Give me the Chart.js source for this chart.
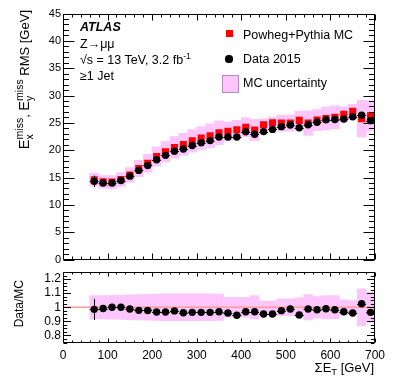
<!DOCTYPE html>
<html><head><meta charset="utf-8">
<script src="https://cdn.jsdelivr.net/npm/chart.js@4.4.1/dist/chart.umd.min.js"></script>
<style>
html,body{margin:0;padding:0;background:#fff;}
body{width:395px;height:379px;position:relative;overflow:hidden;font-family:"Liberation Sans",Arial,Helvetica,sans-serif;color:#000;}
canvas{position:absolute;left:0;}
#c1{top:0}
#c2{top:266px}
.t{position:absolute;white-space:nowrap;font-size:12.5px;line-height:12px;}
.t sup{font-size:8.5px;vertical-align:5px;line-height:0;}
.rot{position:absolute;white-space:nowrap;transform-origin:0 0;transform:rotate(-90deg);text-align:right;}
.ss{display:inline-block;vertical-align:-4px;line-height:10px;font-size:10.5px;text-align:left;}
.ss span{display:block;}
.big{font-size:14.5px;}
#xtitle sub{font-size:9.5px;vertical-align:-3px;line-height:0;}
.mk{position:absolute;}
</style></head><body>
<canvas id="c1" width="395" height="266"></canvas>
<canvas id="c2" width="395" height="113"></canvas>

<div class="t" style="left:80px;top:21px;font-weight:bold;font-style:italic;">ATLAS</div>
<div class="t" style="left:80px;top:37.5px;">Z→μμ</div>
<div class="t" style="left:80px;top:54px;">√s = 13 TeV, 3.2 fb<sup>-1</sup></div>
<div class="t" style="left:80px;top:69.5px;">≥1 Jet</div>

<div class="mk" style="left:225.5px;top:30px;width:7px;height:7px;background:#ff0000;"></div>
<div class="t" style="left:243px;top:28.5px;">Powheg+Pythia MC</div>
<div class="mk" style="left:225.4px;top:55.4px;width:7.2px;height:7.2px;border-radius:50%;background:#000;"></div>
<div class="t" style="left:243px;top:53px;">Data 2015</div>
<div class="mk" style="left:222px;top:75px;width:15px;height:16px;background:#fcc6fc;border:1px solid #b98ab9;"></div>
<div class="t" style="left:243px;top:77px;">MC uncertainty</div>

<div class="rot" style="left:14px;top:193px;width:183px;height:14px;line-height:14px;font-size:13px;"><span class="big">E</span><span class="ss"><span>miss</span><span>x</span></span>, <span class="big">E</span><span class="ss"><span>miss</span><span>y</span></span> RMS [GeV]</div>
<div class="rot" style="left:13px;top:340px;width:60px;height:12px;line-height:12px;font-size:12px;">Data/MC</div>
<div id="xtitle" class="t" style="right:21px;top:361px;font-size:13px;line-height:13px;">ΣE<sub>T</sub> [GeV]</div>

<script>
// ---------------- data ----------------
const binCenters = [70,90,110,130,150,170,190,210,230,250,270,290,310,330,350,370,390,410,430,450,470,490,510,530,550,570,590,610,630,650,670,690];
const binHalfWidth = 10;
const mcRms = [14.6,14.2,14.15,14.65,15.45,16.65,17.6,18.85,19.7,20.5,21.05,21.7,22.2,22.65,23.2,23.45,23.75,24.2,23.7,24.65,25.0,24.95,24.95,25.45,24.95,25.5,25.8,26.0,26.55,27.1,25.75,26.3];
const mcRelUnc = [0.082,0.082,0.084,0.086,0.088,0.090,0.092,0.094,0.095,0.096,0.096,0.096,0.096,0.096,0.094,0.071,0.071,0.071,0.082,0.043,0.043,0.059,0.059,0.066,0.090,0.076,0.082,0.082,0.052,0.047,0.130,0.105];
const dataRms = [14.3,14.0,14.0,14.45,15.25,16.3,17.2,18.25,19.05,19.8,20.2,20.85,21.35,21.75,22.4,22.4,22.4,23.35,22.9,23.4,23.8,24.3,24.6,24.1,24.65,25.1,25.55,25.6,25.7,26.1,26.4,25.4];
const dataErr = [1.05,0.25,0.2,0.2,0.2,0.2,0.2,0.2,0.2,0.2,0.2,0.2,0.2,0.25,0.25,0.25,0.25,0.25,0.3,0.3,0.3,0.3,0.3,0.35,0.35,0.35,0.35,0.4,0.4,0.4,0.5,0.5];
const ratio = [0.985,0.991,1.0,1.0,0.988,0.978,0.977,0.966,0.966,0.974,0.961,0.964,0.964,0.964,0.968,0.959,0.943,0.968,0.968,0.952,0.952,0.976,0.988,0.945,0.988,0.982,0.989,0.982,0.968,0.959,1.025,0.964];
const ratioErr = [0.075,0.012,0.01,0.01,0.01,0.01,0.01,0.01,0.01,0.01,0.01,0.01,0.01,0.012,0.012,0.012,0.012,0.012,0.014,0.014,0.014,0.014,0.014,0.015,0.015,0.015,0.016,0.016,0.017,0.018,0.022,0.022];
const ratioRef = 1;
const mainYTicks = [0,5,10,15,20,25,30,35,40,45];
const ratioYTicks = [0.8,0.9,1,1.1,1.2];
const xTickValues = [0,100,200,300,400,500,600,700];

// ---------------- helpers ----------------
const FONT = "'Liberation Sans', Arial, Helvetica, sans-serif";
const PINK = '#fcc6fc';

function frameTicks(c) {
  return {
    id: 'frameTicks',
    afterDraw(chart) {
      const ctx = chart.ctx, a = chart.chartArea, xs = chart.scales.x, ys = chart.scales.y;
      ctx.save();
      ctx.strokeStyle = '#000';
      ctx.lineWidth = 1;
      ctx.beginPath();
      const L = Math.round(a.left) + 0.5, R = Math.round(a.right) - 0.5, T = Math.round(a.top) + 0.5, B = Math.round(a.bottom) - 0.5;
      ctx.rect(L, T, R - L, B - T);
      for (let k = 0; ; k++) {
        const v = c.xMin + k * c.xMinor;
        if (v > c.xMax + 1e-9) break;
        const major = Math.abs(v / c.xMajor - Math.round(v / c.xMajor)) < 1e-6;
        const len = major ? c.xMajLen : c.xMinLen;
        const px = Math.round(xs.getPixelForValue(v)) + 0.5;
        ctx.moveTo(px, B); ctx.lineTo(px, B - len);
        ctx.moveTo(px, T); ctx.lineTo(px, T + len);
      }
      for (let k = 0; ; k++) {
        const v = c.yMin + k * c.yMinor;
        if (v > c.yMax + 1e-9) break;
        const major = Math.abs(v / c.yMajor - Math.round(v / c.yMajor)) < 1e-6;
        const len = major ? c.yMajLen : c.yMinLen;
        const py = Math.round(ys.getPixelForValue(v)) + 0.5;
        ctx.moveTo(L, py); ctx.lineTo(L + len, py);
        ctx.moveTo(R, py); ctx.lineTo(R - len, py);
      }
      ctx.stroke();
      ctx.restore();
    }
  };
}

function errorBars(afterIndex, xs_, ys_, errs) {
  return {
    id: 'errorBars',
    afterDatasetDraw(chart, args) {
      if (args.index !== afterIndex) return;
      const ctx = chart.ctx, xs = chart.scales.x, ys = chart.scales.y, a = chart.chartArea;
      ctx.save();
      ctx.beginPath();
      ctx.rect(a.left, a.top, a.right - a.left, a.bottom - a.top);
      ctx.clip();
      ctx.strokeStyle = '#000';
      ctx.lineWidth = 1;
      ctx.beginPath();
      xs_.forEach((xc, i) => {
        const py = Math.round(ys.getPixelForValue(ys_[i])) + 0.5;
        const px = Math.round(xs.getPixelForValue(xc)) + 0.5;
        ctx.moveTo(xs.getPixelForValue(xc - binHalfWidth), py);
        ctx.lineTo(xs.getPixelForValue(xc + binHalfWidth), py);
        ctx.moveTo(px, ys.getPixelForValue(ys_[i] - errs[i]));
        ctx.lineTo(px, ys.getPixelForValue(ys_[i] + errs[i]));
      });
      ctx.stroke();
      ctx.restore();
    }
  };
}

function noPad(s) { s.paddingTop = 0; s.paddingBottom = 0; s.paddingLeft = 0; s.paddingRight = 0; }
function fmt(v) { return String(Math.round(v * 10) / 10); }

// ---------------- main panel ----------------
new Chart(document.getElementById('c1'), {
  type: 'scatter',
  data: {
    datasets: [
      { type: 'bar', order: 3,
        data: binCenters.map((x, i) => ({ x: x, y: [mcRms[i] * (1 - mcRelUnc[i]), mcRms[i] * (1 + mcRelUnc[i])] })),
        backgroundColor: PINK, borderWidth: 0, barPercentage: 1, categoryPercentage: 1 },
      { type: 'scatter', order: 2,
        data: binCenters.map((x, i) => ({ x: x, y: mcRms[i] })),
        pointStyle: 'rect', pointRadius: 5, backgroundColor: '#ff0000', borderWidth: 0 },
      { type: 'scatter', order: 1,
        data: binCenters.map((x, i) => ({ x: x, y: dataRms[i] })),
        pointStyle: 'circle', pointRadius: 3.7, backgroundColor: '#000000', borderWidth: 0 }
    ]
  },
  options: {
    responsive: false, animation: false, events: [],
    layout: { padding: { left: 0, right: 20, top: 13.5, bottom: 0 } },
    plugins: { legend: { display: false }, tooltip: { enabled: false } },
    scales: {
      x: { type: 'linear', min: 0, max: 700, offset: false,
        ticks: { display: false }, grid: { display: false, drawTicks: false, offset: false }, border: { display: false },
        afterFit(s) { s.height = 6.5; noPad(s); } },
      y: { type: 'linear', min: 0, max: 45,
        afterBuildTicks(s) { s.ticks = mainYTicks.map(v => ({ value: v })); },
        ticks: { font: { family: FONT, size: 11 }, color: '#000', padding: 2, callback: v => fmt(v) },
        grid: { display: false, drawTicks: false }, border: { display: false },
        afterFit(s) { s.width = 63; noPad(s); } }
    }
  },
  plugins: [
    errorBars(1, binCenters, dataRms, dataErr),
    frameTicks({ xMin: 0, xMax: 700, xMinor: 20, xMajor: 100, xMajLen: 6, xMinLen: 3,
                 yMin: 0, yMax: 45, yMinor: 1, yMajor: 5, yMajLen: 11, yMinLen: 5.5 })
  ]
});

// ---------------- ratio panel ----------------
new Chart(document.getElementById('c2'), {
  type: 'scatter',
  data: {
    datasets: [
      { type: 'bar', order: 3,
        data: binCenters.map((x, i) => ({ x: x, y: [ratioRef - mcRelUnc[i], ratioRef + mcRelUnc[i]] })),
        backgroundColor: PINK, borderWidth: 0, barPercentage: 1, categoryPercentage: 1 },
      { type: 'line', order: 2,
        data: [{ x: 0, y: ratioRef }, { x: 700, y: ratioRef }],
        borderColor: '#ff9a9a', borderWidth: 1.6, pointRadius: 0, fill: false },
      { type: 'scatter', order: 1,
        data: binCenters.map((x, i) => ({ x: x, y: ratio[i] })),
        pointStyle: 'circle', pointRadius: 3.7, backgroundColor: '#000000', borderWidth: 0 }
    ]
  },
  options: {
    responsive: false, animation: false, events: [],
    layout: { padding: { left: 0, right: 20, top: 6, bottom: 0 } },
    plugins: { legend: { display: false }, tooltip: { enabled: false } },
    scales: {
      x: { type: 'linear', min: 0, max: 700, offset: false,
        afterBuildTicks(s) { s.ticks = xTickValues.map(v => ({ value: v })); },
        ticks: { font: { family: FONT, size: 12 }, color: '#000', padding: 5.5, maxRotation: 0, autoSkip: false, callback: v => String(v) },
        grid: { display: false, drawTicks: false, offset: false }, border: { display: false },
        afterFit(s) { s.height = 36.5; noPad(s); } },
      y: { type: 'linear', min: 0.75, max: 1.25,
        afterBuildTicks(s) { s.ticks = ratioYTicks.map(v => ({ value: v })); },
        ticks: { font: { family: FONT, size: 12 }, color: '#000', padding: 2, callback: v => fmt(v) },
        grid: { display: false, drawTicks: false }, border: { display: false },
        afterFit(s) { s.width = 63; noPad(s); } }
    }
  },
  plugins: [
    errorBars(1, binCenters, ratio, ratioErr),
    frameTicks({ xMin: 0, xMax: 700, xMinor: 20, xMajor: 100, xMajLen: 4, xMinLen: 2,
                 yMin: 0.75, yMax: 1.25, yMinor: 0.025, yMajor: 0.1, yMajLen: 7.5, yMinLen: 3.7 })
  ]
});
</script>
</body></html>
